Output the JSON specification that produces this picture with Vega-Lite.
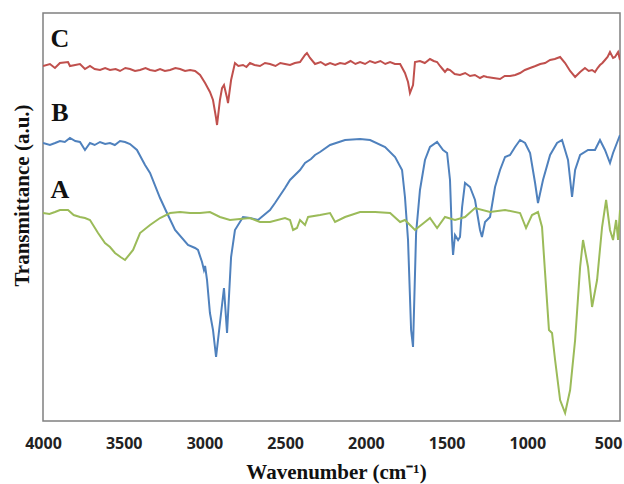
{
  "$schema": "https://vega.github.io/schema/vega-lite/v6.json",
  "width": 577,
  "height": 408,
  "autosize": {"type": "none"},
  "padding": {"left": 43, "top": 13, "right": 4, "bottom": 63},
  "background": "white",
  "config": {
    "view": {"stroke": "#808080", "strokeWidth": 1.5},
    "axis": {"grid": false}
  },
  "datasets": {
    "spectra": [
      {"s": "C", "wn": 4000, "t": 355}, {"s": "C", "wn": 3957, "t": 357}, {"s": "C", "wn": 3926, "t": 353}, {"s": "C", "wn": 3895, "t": 358}, {"s": "C", "wn": 3845, "t": 359}, {"s": "C", "wn": 3833, "t": 355}, {"s": "C", "wn": 3771, "t": 357}, {"s": "C", "wn": 3740, "t": 352}, {"s": "C", "wn": 3709, "t": 355}, {"s": "C", "wn": 3680, "t": 352}, {"s": "C", "wn": 3647, "t": 351}, {"s": "C", "wn": 3615, "t": 353}, {"s": "C", "wn": 3585, "t": 351}, {"s": "C", "wn": 3550, "t": 352}, {"s": "C", "wn": 3523, "t": 350}, {"s": "C", "wn": 3490, "t": 353}, {"s": "C", "wn": 3461, "t": 352}, {"s": "C", "wn": 3430, "t": 350}, {"s": "C", "wn": 3399, "t": 351}, {"s": "C", "wn": 3365, "t": 353}, {"s": "C", "wn": 3337, "t": 351}, {"s": "C", "wn": 3305, "t": 350}, {"s": "C", "wn": 3275, "t": 352}, {"s": "C", "wn": 3245, "t": 350}, {"s": "C", "wn": 3213, "t": 351}, {"s": "C", "wn": 3180, "t": 353}, {"s": "C", "wn": 3151, "t": 352}, {"s": "C", "wn": 3120, "t": 350}, {"s": "C", "wn": 3089, "t": 351}, {"s": "C", "wn": 3058, "t": 350}, {"s": "C", "wn": 3027, "t": 346}, {"s": "C", "wn": 2996, "t": 338}, {"s": "C", "wn": 2966, "t": 329}, {"s": "C", "wn": 2947, "t": 321}, {"s": "C", "wn": 2928, "t": 303}, {"s": "C", "wn": 2922, "t": 296}, {"s": "C", "wn": 2904, "t": 321}, {"s": "C", "wn": 2891, "t": 333}, {"s": "C", "wn": 2879, "t": 336}, {"s": "C", "wn": 2860, "t": 323}, {"s": "C", "wn": 2854, "t": 318}, {"s": "C", "wn": 2835, "t": 341}, {"s": "C", "wn": 2811, "t": 358}, {"s": "C", "wn": 2790, "t": 355}, {"s": "C", "wn": 2761, "t": 356}, {"s": "C", "wn": 2740, "t": 354}, {"s": "C", "wn": 2718, "t": 358}, {"s": "C", "wn": 2690, "t": 356}, {"s": "C", "wn": 2656, "t": 355}, {"s": "C", "wn": 2625, "t": 358}, {"s": "C", "wn": 2594, "t": 357}, {"s": "C", "wn": 2560, "t": 355}, {"s": "C", "wn": 2530, "t": 358}, {"s": "C", "wn": 2501, "t": 357}, {"s": "C", "wn": 2470, "t": 356}, {"s": "C", "wn": 2440, "t": 358}, {"s": "C", "wn": 2408, "t": 359}, {"s": "C", "wn": 2377, "t": 366}, {"s": "C", "wn": 2365, "t": 368}, {"s": "C", "wn": 2346, "t": 363}, {"s": "C", "wn": 2315, "t": 357}, {"s": "C", "wn": 2280, "t": 359}, {"s": "C", "wn": 2250, "t": 356}, {"s": "C", "wn": 2222, "t": 358}, {"s": "C", "wn": 2190, "t": 356}, {"s": "C", "wn": 2160, "t": 358}, {"s": "C", "wn": 2129, "t": 357}, {"s": "C", "wn": 2095, "t": 360}, {"s": "C", "wn": 2065, "t": 357}, {"s": "C", "wn": 2036, "t": 359}, {"s": "C", "wn": 2005, "t": 357}, {"s": "C", "wn": 1975, "t": 360}, {"s": "C", "wn": 1943, "t": 358}, {"s": "C", "wn": 1910, "t": 360}, {"s": "C", "wn": 1880, "t": 357}, {"s": "C", "wn": 1850, "t": 359}, {"s": "C", "wn": 1820, "t": 357}, {"s": "C", "wn": 1788, "t": 357}, {"s": "C", "wn": 1758, "t": 348}, {"s": "C", "wn": 1739, "t": 339}, {"s": "C", "wn": 1727, "t": 328}, {"s": "C", "wn": 1708, "t": 336}, {"s": "C", "wn": 1696, "t": 359}, {"s": "C", "wn": 1665, "t": 360}, {"s": "C", "wn": 1635, "t": 358}, {"s": "C", "wn": 1603, "t": 362}, {"s": "C", "wn": 1580, "t": 360}, {"s": "C", "wn": 1559, "t": 359}, {"s": "C", "wn": 1541, "t": 355}, {"s": "C", "wn": 1525, "t": 352}, {"s": "C", "wn": 1510, "t": 349}, {"s": "C", "wn": 1495, "t": 352}, {"s": "C", "wn": 1479, "t": 351}, {"s": "C", "wn": 1450, "t": 347}, {"s": "C", "wn": 1417, "t": 346}, {"s": "C", "wn": 1385, "t": 348}, {"s": "C", "wn": 1355, "t": 345}, {"s": "C", "wn": 1325, "t": 346}, {"s": "C", "wn": 1293, "t": 343}, {"s": "C", "wn": 1270, "t": 345}, {"s": "C", "wn": 1250, "t": 344}, {"s": "C", "wn": 1210, "t": 343}, {"s": "C", "wn": 1169, "t": 342}, {"s": "C", "wn": 1140, "t": 345}, {"s": "C", "wn": 1107, "t": 345}, {"s": "C", "wn": 1075, "t": 346}, {"s": "C", "wn": 1045, "t": 348}, {"s": "C", "wn": 1015, "t": 351}, {"s": "C", "wn": 983, "t": 353}, {"s": "C", "wn": 950, "t": 355}, {"s": "C", "wn": 920, "t": 357}, {"s": "C", "wn": 890, "t": 358}, {"s": "C", "wn": 859, "t": 361}, {"s": "C", "wn": 830, "t": 362}, {"s": "C", "wn": 797, "t": 364}, {"s": "C", "wn": 766, "t": 358}, {"s": "C", "wn": 735, "t": 350}, {"s": "C", "wn": 704, "t": 344}, {"s": "C", "wn": 673, "t": 349}, {"s": "C", "wn": 643, "t": 353}, {"s": "C", "wn": 620, "t": 350}, {"s": "C", "wn": 599, "t": 351}, {"s": "C", "wn": 581, "t": 349}, {"s": "C", "wn": 565, "t": 353}, {"s": "C", "wn": 550, "t": 356}, {"s": "C", "wn": 535, "t": 358}, {"s": "C", "wn": 519, "t": 361}, {"s": "C", "wn": 503, "t": 364}, {"s": "C", "wn": 488, "t": 369}, {"s": "C", "wn": 469, "t": 363}, {"s": "C", "wn": 457, "t": 364}, {"s": "C", "wn": 438, "t": 369}, {"s": "C", "wn": 426, "t": 361},

      {"s": "B", "wn": 4000, "t": 278}, {"s": "B", "wn": 3957, "t": 276}, {"s": "B", "wn": 3925, "t": 278}, {"s": "B", "wn": 3895, "t": 280}, {"s": "B", "wn": 3865, "t": 279}, {"s": "B", "wn": 3833, "t": 283}, {"s": "B", "wn": 3800, "t": 280}, {"s": "B", "wn": 3771, "t": 279}, {"s": "B", "wn": 3740, "t": 271}, {"s": "B", "wn": 3709, "t": 278}, {"s": "B", "wn": 3680, "t": 276}, {"s": "B", "wn": 3647, "t": 279}, {"s": "B", "wn": 3615, "t": 277}, {"s": "B", "wn": 3585, "t": 278}, {"s": "B", "wn": 3555, "t": 276}, {"s": "B", "wn": 3523, "t": 280}, {"s": "B", "wn": 3492, "t": 279}, {"s": "B", "wn": 3461, "t": 277}, {"s": "B", "wn": 3418, "t": 271}, {"s": "B", "wn": 3368, "t": 256}, {"s": "B", "wn": 3337, "t": 248}, {"s": "B", "wn": 3275, "t": 223}, {"s": "B", "wn": 3232, "t": 208}, {"s": "B", "wn": 3182, "t": 191}, {"s": "B", "wn": 3102, "t": 176}, {"s": "B", "wn": 3058, "t": 173}, {"s": "B", "wn": 3040, "t": 171}, {"s": "B", "wn": 3015, "t": 159}, {"s": "B", "wn": 3003, "t": 151}, {"s": "B", "wn": 2996, "t": 155}, {"s": "B", "wn": 2984, "t": 141}, {"s": "B", "wn": 2966, "t": 108}, {"s": "B", "wn": 2947, "t": 91}, {"s": "B", "wn": 2928, "t": 64}, {"s": "B", "wn": 2904, "t": 98}, {"s": "B", "wn": 2879, "t": 133}, {"s": "B", "wn": 2860, "t": 88}, {"s": "B", "wn": 2835, "t": 164}, {"s": "B", "wn": 2811, "t": 191}, {"s": "B", "wn": 2761, "t": 204}, {"s": "B", "wn": 2718, "t": 203}, {"s": "B", "wn": 2668, "t": 201}, {"s": "B", "wn": 2594, "t": 211}, {"s": "B", "wn": 2563, "t": 218}, {"s": "B", "wn": 2501, "t": 233}, {"s": "B", "wn": 2470, "t": 241}, {"s": "B", "wn": 2408, "t": 251}, {"s": "B", "wn": 2377, "t": 258}, {"s": "B", "wn": 2340, "t": 262}, {"s": "B", "wn": 2315, "t": 266}, {"s": "B", "wn": 2284, "t": 269}, {"s": "B", "wn": 2222, "t": 276}, {"s": "B", "wn": 2129, "t": 281}, {"s": "B", "wn": 2036, "t": 282}, {"s": "B", "wn": 1974, "t": 281}, {"s": "B", "wn": 1881, "t": 274}, {"s": "B", "wn": 1819, "t": 264}, {"s": "B", "wn": 1776, "t": 251}, {"s": "B", "wn": 1758, "t": 224}, {"s": "B", "wn": 1739, "t": 181}, {"s": "B", "wn": 1720, "t": 91}, {"s": "B", "wn": 1708, "t": 74}, {"s": "B", "wn": 1689, "t": 188}, {"s": "B", "wn": 1665, "t": 231}, {"s": "B", "wn": 1634, "t": 261}, {"s": "B", "wn": 1603, "t": 274}, {"s": "B", "wn": 1559, "t": 279}, {"s": "B", "wn": 1522, "t": 271}, {"s": "B", "wn": 1497, "t": 268}, {"s": "B", "wn": 1479, "t": 241}, {"s": "B", "wn": 1466, "t": 181}, {"s": "B", "wn": 1460, "t": 166}, {"s": "B", "wn": 1448, "t": 186}, {"s": "B", "wn": 1429, "t": 181}, {"s": "B", "wn": 1417, "t": 184}, {"s": "B", "wn": 1404, "t": 214}, {"s": "B", "wn": 1386, "t": 238}, {"s": "B", "wn": 1355, "t": 234}, {"s": "B", "wn": 1324, "t": 221}, {"s": "B", "wn": 1293, "t": 191}, {"s": "B", "wn": 1281, "t": 184}, {"s": "B", "wn": 1262, "t": 199}, {"s": "B", "wn": 1231, "t": 204}, {"s": "B", "wn": 1200, "t": 234}, {"s": "B", "wn": 1169, "t": 251}, {"s": "B", "wn": 1138, "t": 264}, {"s": "B", "wn": 1107, "t": 266}, {"s": "B", "wn": 1076, "t": 274}, {"s": "B", "wn": 1045, "t": 281}, {"s": "B", "wn": 1014, "t": 278}, {"s": "B", "wn": 983, "t": 268}, {"s": "B", "wn": 952, "t": 238}, {"s": "B", "wn": 934, "t": 218}, {"s": "B", "wn": 903, "t": 241}, {"s": "B", "wn": 859, "t": 266}, {"s": "B", "wn": 816, "t": 278}, {"s": "B", "wn": 785, "t": 281}, {"s": "B", "wn": 748, "t": 261}, {"s": "B", "wn": 723, "t": 224}, {"s": "B", "wn": 704, "t": 251}, {"s": "B", "wn": 673, "t": 266}, {"s": "B", "wn": 624, "t": 271}, {"s": "B", "wn": 581, "t": 271}, {"s": "B", "wn": 550, "t": 281}, {"s": "B", "wn": 519, "t": 271}, {"s": "B", "wn": 488, "t": 258}, {"s": "B", "wn": 469, "t": 268}, {"s": "B", "wn": 438, "t": 281}, {"s": "B", "wn": 426, "t": 286},

      {"s": "A", "wn": 4000, "t": 208}, {"s": "A", "wn": 3960, "t": 207}, {"s": "A", "wn": 3926, "t": 209}, {"s": "A", "wn": 3895, "t": 211}, {"s": "A", "wn": 3845, "t": 211}, {"s": "A", "wn": 3810, "t": 206}, {"s": "A", "wn": 3771, "t": 204}, {"s": "A", "wn": 3740, "t": 203}, {"s": "A", "wn": 3709, "t": 201}, {"s": "A", "wn": 3659, "t": 188}, {"s": "A", "wn": 3616, "t": 178}, {"s": "A", "wn": 3585, "t": 174}, {"s": "A", "wn": 3554, "t": 168}, {"s": "A", "wn": 3520, "t": 164}, {"s": "A", "wn": 3492, "t": 161}, {"s": "A", "wn": 3442, "t": 171}, {"s": "A", "wn": 3399, "t": 188}, {"s": "A", "wn": 3337, "t": 196}, {"s": "A", "wn": 3275, "t": 203}, {"s": "A", "wn": 3213, "t": 208}, {"s": "A", "wn": 3151, "t": 209}, {"s": "A", "wn": 3089, "t": 208}, {"s": "A", "wn": 3027, "t": 208}, {"s": "A", "wn": 2966, "t": 209}, {"s": "A", "wn": 2904, "t": 204}, {"s": "A", "wn": 2842, "t": 201}, {"s": "A", "wn": 2780, "t": 202}, {"s": "A", "wn": 2718, "t": 203}, {"s": "A", "wn": 2656, "t": 199}, {"s": "A", "wn": 2594, "t": 199}, {"s": "A", "wn": 2501, "t": 203}, {"s": "A", "wn": 2470, "t": 201}, {"s": "A", "wn": 2451, "t": 191}, {"s": "A", "wn": 2427, "t": 193}, {"s": "A", "wn": 2408, "t": 201}, {"s": "A", "wn": 2377, "t": 196}, {"s": "A", "wn": 2358, "t": 204}, {"s": "A", "wn": 2284, "t": 206}, {"s": "A", "wn": 2222, "t": 208}, {"s": "A", "wn": 2191, "t": 199}, {"s": "A", "wn": 2129, "t": 204}, {"s": "A", "wn": 2036, "t": 209}, {"s": "A", "wn": 1943, "t": 209}, {"s": "A", "wn": 1850, "t": 208}, {"s": "A", "wn": 1788, "t": 199}, {"s": "A", "wn": 1758, "t": 201}, {"s": "A", "wn": 1696, "t": 191}, {"s": "A", "wn": 1634, "t": 199}, {"s": "A", "wn": 1603, "t": 203}, {"s": "A", "wn": 1559, "t": 193}, {"s": "A", "wn": 1510, "t": 204}, {"s": "A", "wn": 1448, "t": 201}, {"s": "A", "wn": 1386, "t": 204}, {"s": "A", "wn": 1324, "t": 213}, {"s": "A", "wn": 1231, "t": 209}, {"s": "A", "wn": 1138, "t": 211}, {"s": "A", "wn": 1045, "t": 208}, {"s": "A", "wn": 1008, "t": 193}, {"s": "A", "wn": 971, "t": 206}, {"s": "A", "wn": 934, "t": 209}, {"s": "A", "wn": 909, "t": 194}, {"s": "A", "wn": 890, "t": 148}, {"s": "A", "wn": 866, "t": 91}, {"s": "A", "wn": 847, "t": 88}, {"s": "A", "wn": 828, "t": 61}, {"s": "A", "wn": 797, "t": 21}, {"s": "A", "wn": 766, "t": 8}, {"s": "A", "wn": 735, "t": 31}, {"s": "A", "wn": 704, "t": 81}, {"s": "A", "wn": 673, "t": 154}, {"s": "A", "wn": 655, "t": 181}, {"s": "A", "wn": 624, "t": 154}, {"s": "A", "wn": 599, "t": 114}, {"s": "A", "wn": 568, "t": 141}, {"s": "A", "wn": 537, "t": 194}, {"s": "A", "wn": 512, "t": 221}, {"s": "A", "wn": 488, "t": 191}, {"s": "A", "wn": 469, "t": 181}, {"s": "A", "wn": 450, "t": 201}, {"s": "A", "wn": 438, "t": 181}, {"s": "A", "wn": 426, "t": 211}
    ],
    "labels": [
      {"s": "C", "wn": 3895, "t": 382},
      {"s": "B", "wn": 3895, "t": 308},
      {"s": "A", "wn": 3895, "t": 231}
    ]
  },
  "layer": [
    {
      "data": {"name": "spectra"},
      "mark": {"type": "line", "strokeWidth": 2, "clip": true},
      "encoding": {
        "x": {
          "field": "wn", "type": "quantitative",
          "scale": {"domain": [4000, 426], "nice": false, "zero": false},
          "axis": {
            "values": [4000, 3500, 3000, 2500, 2000, 1500, 1000, 500],
            "format": "d",
            "domain": false, "ticks": false,
            "labelFont": "Open Sans", "labelFontWeight": "bold", "labelFontSize": 16,
            "labelColor": "#222222", "labelPadding": 14, "labelFlush": false, "labelOverlap": false,
            "title": "Wavenumber (cm⁻¹)",
            "titleFont": "Liberation Serif", "titleFontWeight": "bold", "titleFontSize": 21,
            "titleColor": "#111111",
            "titleX": 293, "titleY": 57, "titleAlign": "center", "titleBaseline": "alphabetic"
          }
        },
        "y": {
          "field": "t", "type": "quantitative",
          "scale": {"domain": [0, 408], "nice": false, "zero": false},
          "axis": {
            "domain": false, "ticks": false, "labels": false,
            "title": "Transmittance (a.u.)",
            "titleFont": "Liberation Serif", "titleFontWeight": "bold", "titleFontSize": 21,
            "titleColor": "#111111",
            "titleAngle": -90, "titleX": -21, "titleY": 182,
            "titleAlign": "center", "titleBaseline": "middle"
          }
        },
        "color": {
          "field": "s", "type": "nominal",
          "scale": {"domain": ["A", "B", "C"], "range": ["#9bbb59", "#4f81bd", "#c0504d"]},
          "legend": null
        },
        "detail": {"field": "s"}
      }
    },
    {
      "data": {"name": "labels"},
      "mark": {"type": "text", "font": "Liberation Serif", "fontWeight": "bold", "fontSize": 26, "align": "center", "baseline": "middle", "color": "#111111"},
      "encoding": {
        "x": {"field": "wn", "type": "quantitative"},
        "y": {"field": "t", "type": "quantitative"},
        "text": {"field": "s"}
      }
    }
  ]
}
